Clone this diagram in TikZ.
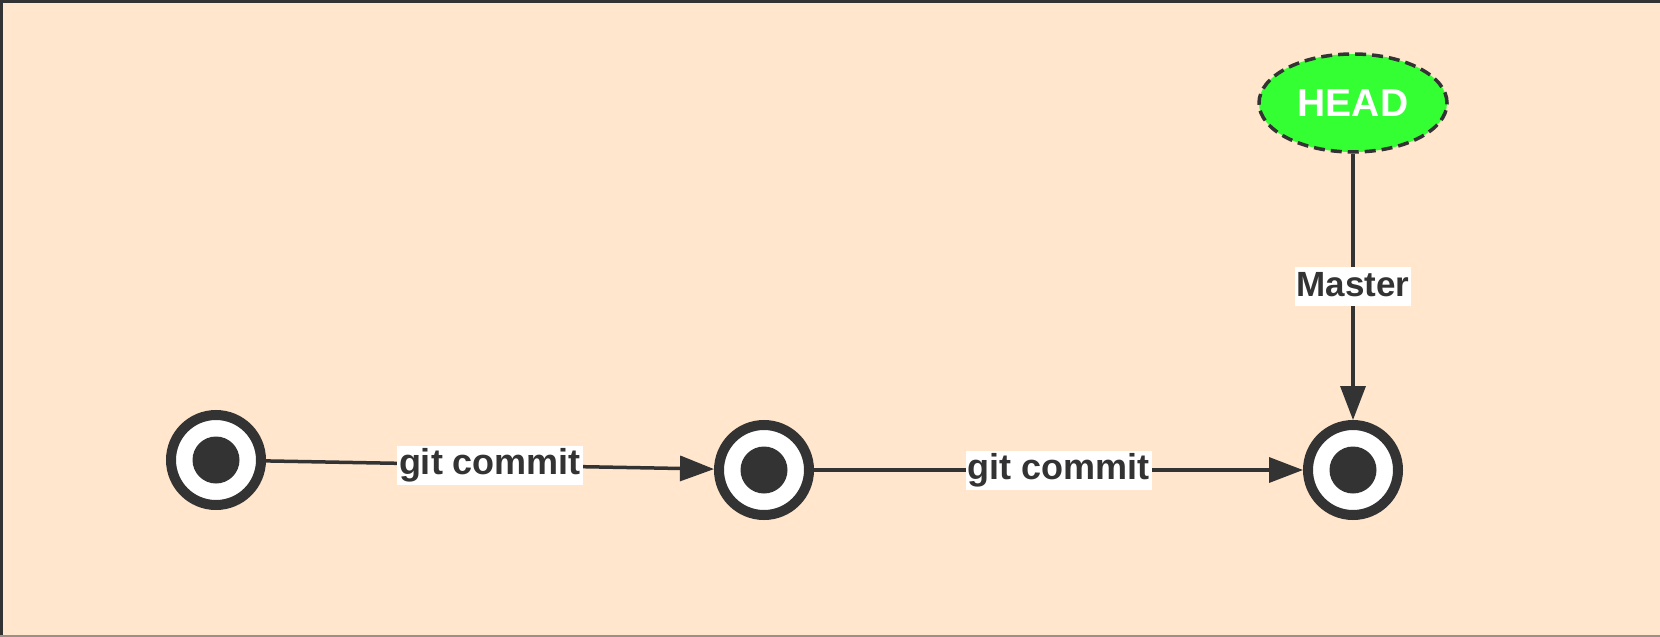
\documentclass[tikz,border=0pt]{standalone}
\usepackage{fontspec}
\setmainfont{Liberation Sans}
\usetikzlibrary{arrows.meta,shapes.geometric}
\definecolor{bgpeach}{HTML}{FFE6CC}
\definecolor{darkgr}{HTML}{333333}
\definecolor{headgreen}{HTML}{33FF33}
\definecolor{edgegray}{HTML}{9A9088}
\begin{document}
\begin{tikzpicture}[x=1pt,y=-1pt,
  commit/.style={circle,draw=darkgr,line width=10pt,fill=white,minimum size=90pt,inner sep=0pt},
  dot/.style={circle,fill=darkgr,minimum size=47pt,inner sep=0pt},
  conn/.style={draw=darkgr,line width=3.5pt,-{Triangle[length=34pt,width=25pt]}},
  lbl/.style={fill=white,text=darkgr,font=\fontsize{36}{40}\selectfont\bfseries,inner xsep=2pt,inner ysep=1pt,text height=28pt,text depth=9pt},
  mlbl/.style={lbl,font=\fontsize{35}{40}\selectfont\bfseries},
  headnode/.style={ellipse,draw=darkgr,line width=3.5pt,dash pattern=on 11pt off 6pt,fill=headgreen,minimum width=188pt,minimum height=98pt,inner sep=0pt,text=white,font=\fontsize{39}{42}\selectfont\bfseries}]
\useasboundingbox (0,0) rectangle (1660,637);
\fill[bgpeach] (0,0) rectangle (1660,637);
\draw[darkgr,line width=3pt] (0,1.5) -- (1660,1.5);
\draw[darkgr,line width=3pt] (1.5,0) -- (1.5,637);
\draw[edgegray,line width=2pt] (0,636) -- (1660,636);
\node[commit] (c1) at (216,460) {};
\node[commit] (c2) at (764,470) {};
\node[commit] (c3) at (1353,470) {};
\node[dot] (d1) at (c1) {};
\node[dot] (d2) at (c2) {};
\node[dot] (d3) at (c3) {};
\node[headnode] (head) at (1353,103) {HEAD};
\draw[conn] (c1) -- node[lbl] {git commit} (c2);
\draw[conn] (c2) -- node[lbl] {git commit} (c3);
\draw[conn] (head) -- node[mlbl] {Master} (c3);
\end{tikzpicture}
\end{document}
